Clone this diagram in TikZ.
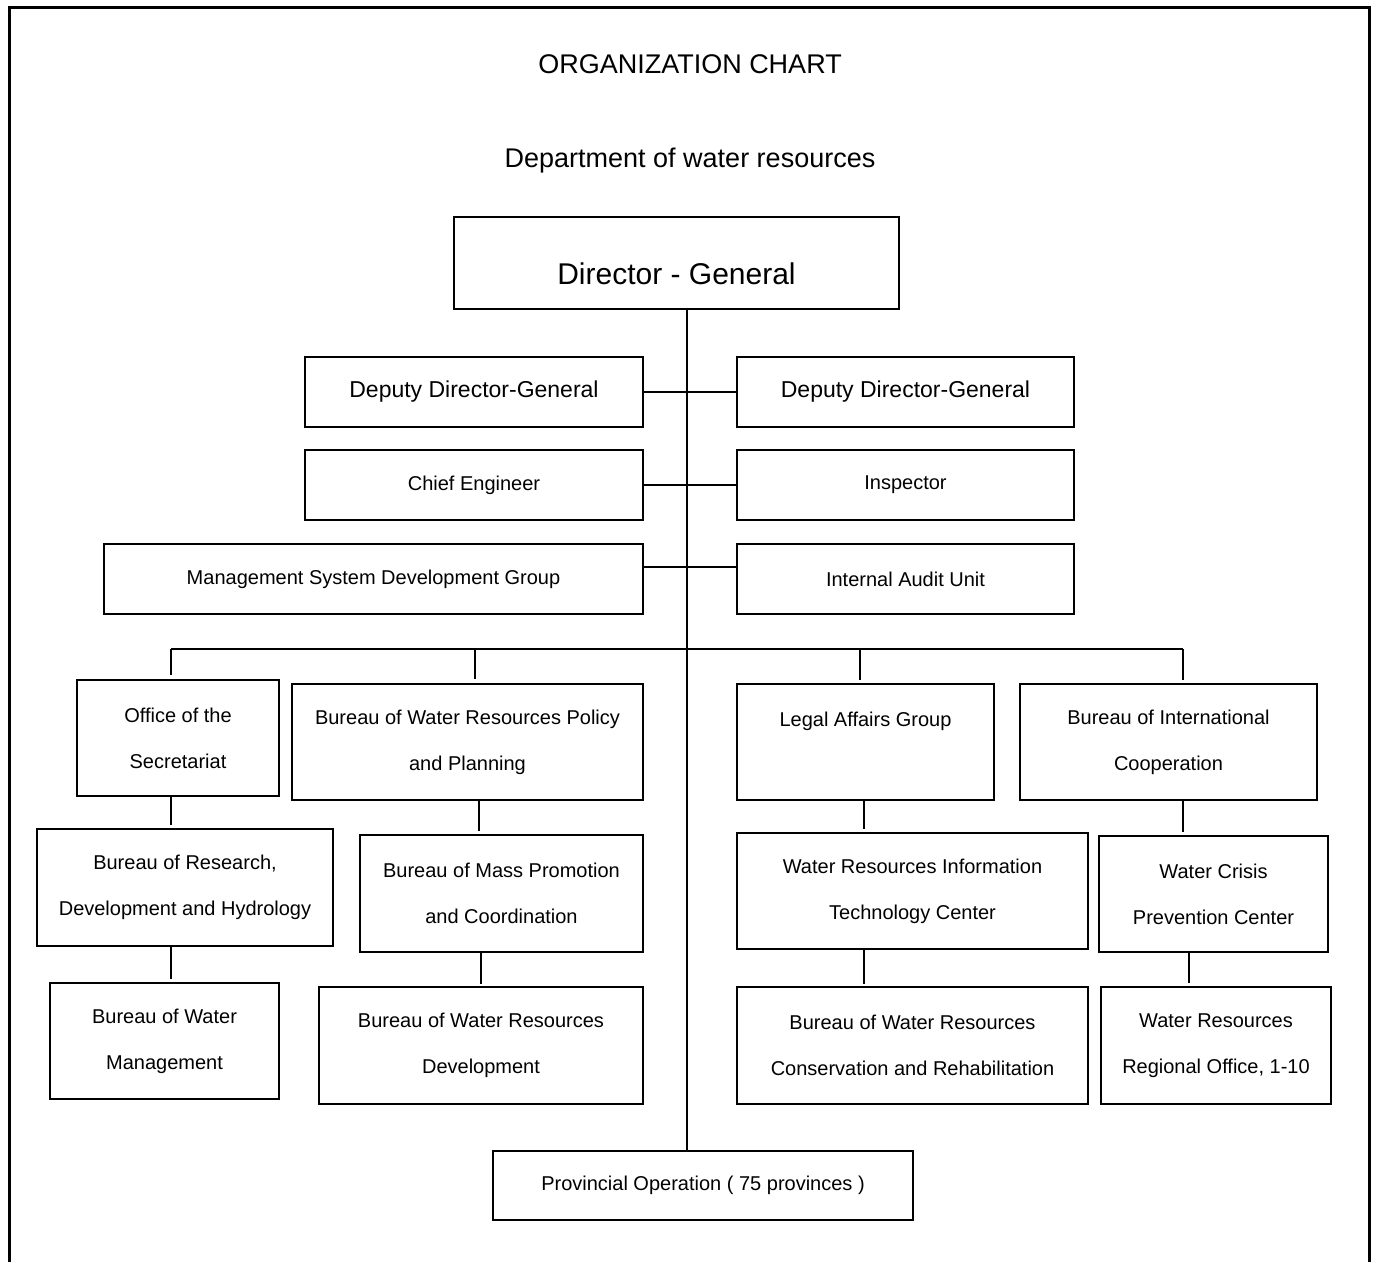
\documentclass[tikz,border=0pt]{standalone}
\usepackage{fontspec}
\setmainfont{Liberation Sans}
\usetikzlibrary{positioning}

\begin{document}
\begin{tikzpicture}[x=1pt,y=-1pt]
    \tikzstyle{unit}=[draw,rectangle,line width=1.8pt,inner sep=0pt,align=center,font=\fontsize{20}{46}\selectfont];
    \tikzstyle{link}=[line width=1.5pt];

    \useasboundingbox (0,0) rectangle (1376,1262);
    \draw[line width=2.2pt] (9.5,1262) -- (9.5,7.5) -- (1369.5,7.5) -- (1369.5,1262);

    \node[anchor=base,font=\fontsize{27}{32}\selectfont] (title) at (690,73) {ORGANIZATION CHART};
    \node[anchor=base,font=\fontsize{27}{32}\selectfont] (dept) at (690,167) {Department of water resources};

    \node[unit,minimum width=445pt,minimum height=92pt,font=\fontsize{30}{36}\selectfont,text height=43pt,text depth=0pt] (dg) at (676.5,263) {Director - General};

    \node[unit,minimum width=338pt,minimum height=70pt,font=\fontsize{23}{28}\selectfont] (ddgl) at (474,392) {Deputy Director-General};
    \node[unit,minimum width=337pt,minimum height=70pt,font=\fontsize{23}{28}\selectfont] (ddgr) at (905.5,392) {Deputy Director-General};
    \node[unit,minimum width=338pt,minimum height=70pt] (chief) at (474,485) {Chief Engineer};
    \node[unit,minimum width=337pt,minimum height=70pt] (insp) at (905.5,485) {Inspector};
    \node[unit,minimum width=539pt,minimum height=70pt] (msdg) at (373.5,579) {Management System Development Group};
    \node[unit,minimum width=337pt,minimum height=70pt] (audit) at (905.5,579) {Internal Audit Unit};

    \node[unit,minimum width=202pt,minimum height=116pt] (sec) at (178,738) {Office of the\\Secretariat};
    \node[unit,minimum width=351pt,minimum height=116pt] (policy) at (467.5,742) {Bureau of Water Resources Policy\\and Planning};
    \node[unit,minimum width=257pt,minimum height=116pt] (legal) at (865.5,742) {Legal Affairs Group\\~};
    \node[unit,minimum width=297pt,minimum height=116pt] (intl) at (1168.5,742) {Bureau of International\\Cooperation};

    \node[unit,minimum width=296pt,minimum height=117pt] (res) at (185,887.5) {Bureau of Research,\\Development and Hydrology};
    \node[unit,minimum width=283pt,minimum height=117pt] (mass) at (501.5,893.5) {Bureau of Mass Promotion\\and Coordination};
    \node[unit,minimum width=351pt,minimum height=116pt] (writ) at (912.5,891) {Water Resources Information\\Technology Center};
    \node[unit,minimum width=229pt,minimum height=116pt] (crisis) at (1213.5,894) {Water Crisis\\Prevention Center};

    \node[unit,minimum width=229pt,minimum height=116pt] (wmgmt) at (164.5,1041) {Bureau of Water\\Management};
    \node[unit,minimum width=324pt,minimum height=117pt] (dev) at (481,1045.5) {Bureau of Water Resources\\Development};
    \node[unit,minimum width=351pt,minimum height=117pt] (cons) at (912.5,1045.5) {Bureau of Water Resources\\Conservation and Rehabilitation};
    \node[unit,minimum width=230pt,minimum height=117pt] (region) at (1216,1045.5) {Water Resources\\Regional Office, 1-10};

    \node[unit,minimum width=420pt,minimum height=69pt] (prov) at (703,1185.5) {Provincial Operation ( 75 provinces )};

    % main line and side links
    \coordinate (trunk) at (687,0);
    \draw[link] (trunk |- dg.south) -- (trunk |- prov.north);
    \draw[link] (ddgl) -- (ddgr);
    \draw[link] (chief) -- (insp);
    \draw[link] ([yshift=12pt]msdg.east) -- ([yshift=12pt]audit.west);

    % bureau bus
    \coordinate (b1) at (171,649);
    \coordinate (b2) at (475,649);
    \coordinate (b3) at (860,649);
    \coordinate (b4) at (1183,649);
    \coordinate (c2) at (479,0);
    \coordinate (c3) at (481,0);
    \coordinate (c4) at (864,0);
    \coordinate (c6) at (1189,0);

    \draw[link] (b1) -- (b4);
    \draw[link,shorten >=4pt] (b1) -- (b1 |- sec.north);
    \draw[link,shorten >=4pt] (b2) -- (b2 |- policy.north);
    \draw[link,shorten >=3pt] (b3) -- (b3 |- legal.north);
    \draw[link,shorten >=3pt] (b4) -- (b4 |- intl.north);

    \draw[link,shorten >=3pt] (b1 |- sec.south) -- (b1 |- res.north);
    \draw[link,shorten >=3pt] (b1 |- res.south) -- (b1 |- wmgmt.north);
    \draw[link,shorten >=3pt] (c2 |- policy.south) -- (c2 |- mass.north);
    \draw[link,shorten >=2pt] (c3 |- mass.south) -- (c3 |- dev.north);
    \draw[link,shorten >=3pt] (c4 |- legal.south) -- (c4 |- writ.north);
    \draw[link,shorten >=2pt] (c4 |- writ.south) -- (c4 |- cons.north);
    \draw[link,shorten >=3pt] (b4 |- intl.south) -- (b4 |- crisis.north);
    \draw[link,shorten >=3pt] (c6 |- crisis.south) -- (c6 |- region.north);
  \end{tikzpicture}
\end{document}
